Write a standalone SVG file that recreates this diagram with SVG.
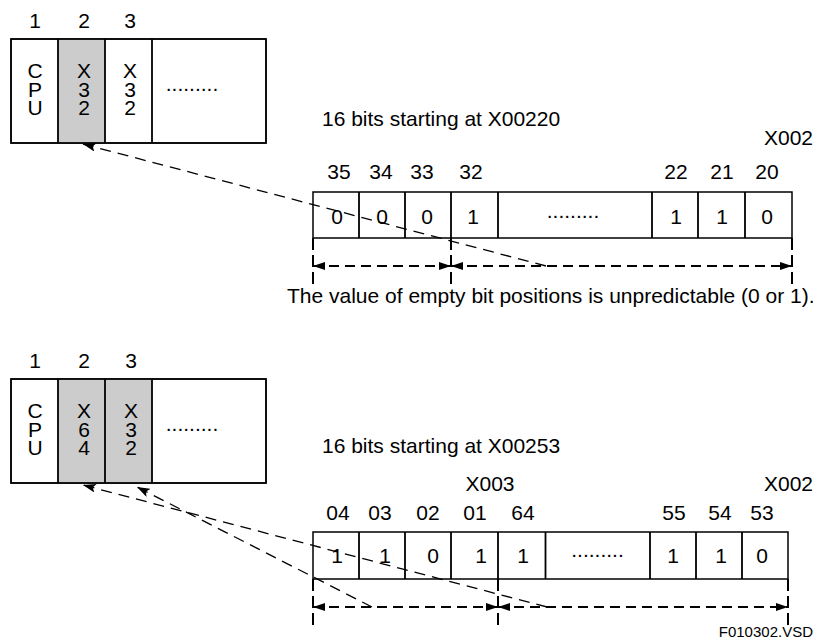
<svg xmlns="http://www.w3.org/2000/svg" width="826" height="641" viewBox="0 0 826 641">
<style>
  text { font-family: "Liberation Sans", Arial, sans-serif; font-size: 21px; fill: #000; }
  .m { text-anchor: middle; }
  .e { text-anchor: end; }
  .v { writing-mode: vertical-rl; text-orientation: upright; letter-spacing: -4.5px; }
  .small { font-size: 15px; }
  .box { fill: #fff; stroke: #000; stroke-width: 1.5; }
  .grey { fill: #cccccc; stroke: none; }
  .div { stroke: #000; stroke-width: 1.8; fill: none; }
  .tick { stroke: #000; stroke-width: 2; stroke-dasharray: 12 5; fill: none; }
  .span { stroke: #000; stroke-width: 2; stroke-dasharray: 10 6; fill: none; }
  .diag { stroke: #000; stroke-width: 1.3; stroke-dasharray: 11 7; fill: none; }
</style>
<defs>
  <marker id="ah" viewBox="0 0 12 8" refX="12" refY="4" markerWidth="12" markerHeight="8" markerUnits="userSpaceOnUse" orient="auto-start-reverse">
    <path d="M0,0 L12,4 L0,8 z" fill="#000"/>
  </marker>
  <marker id="dh" viewBox="0 0 13 9" refX="13" refY="4.5" markerWidth="13" markerHeight="9" markerUnits="userSpaceOnUse" orient="auto">
    <path d="M0,0 L13,4.5 L0,9 L3,4.5 z" fill="#000"/>
  </marker>
</defs>

<!-- ===== Top section ===== -->
<g id="slots-top">
  <text class="m" x="35" y="28">1</text>
  <text class="m" x="84" y="28">2</text>
  <text class="m" x="130" y="28">3</text>
</g>
<g id="block-top">
  <rect class="box" x="11" y="39" width="255" height="104"/>
  <rect class="grey" x="58" y="39.8" width="47" height="102.4"/>
  <line class="div" x1="58" y1="39" x2="58" y2="143"/>
  <line class="div" x1="105" y1="39" x2="105" y2="143"/>
  <line class="div" x1="152" y1="39" x2="152" y2="143"/>
  <rect x="11" y="39" width="255" height="104" fill="none" stroke="#000" stroke-width="1.5"/>
  <text class="v" x="35" y="59">CPU</text>
  <text class="v" x="84" y="59">X32</text>
  <text class="v" x="130" y="59">X32</text>
  <text class="m" x="192" y="90.5">.........</text>
</g>
<g id="register-top">
  <text x="322" y="126">16 bits starting at X00220</text>
  <text class="e" x="813" y="145">X002</text>
  <text class="m" x="339" y="179">35</text>
  <text class="m" x="381" y="179">34</text>
  <text class="m" x="422" y="179">33</text>
  <text class="m" x="471" y="179">32</text>
  <text class="m" x="676" y="179">22</text>
  <text class="m" x="722" y="179">21</text>
  <text class="m" x="767" y="179">20</text>
  <rect class="box" x="313" y="192" width="479" height="46"/>
  <path class="div" d="M359,192V238 M405,192V238 M451,192V238 M498,192V238 M652,192V238 M698,192V238 M745,192V238"/>
  <text class="m" x="337" y="224">0</text>
  <text class="m" x="382" y="224">0</text>
  <text class="m" x="427" y="224">0</text>
  <text class="m" x="473" y="224">1</text>
  <text class="m" x="573" y="217.5">.........</text>
  <text class="m" x="676" y="224">1</text>
  <text class="m" x="722" y="224">1</text>
  <text class="m" x="767" y="224">0</text>
</g>
<text x="287" y="303">The value of empty bit positions is unpredictable (0 or 1).</text>

<!-- ===== Bottom section ===== -->
<g id="slots-bottom">
  <text class="m" x="35" y="368">1</text>
  <text class="m" x="84" y="368">2</text>
  <text class="m" x="131" y="368">3</text>
</g>
<g id="block-bottom">
  <rect class="box" x="11" y="379" width="255" height="104"/>
  <rect class="grey" x="58" y="379.8" width="94" height="102.4"/>
  <line class="div" x1="58" y1="379" x2="58" y2="483"/>
  <line class="div" x1="105" y1="379" x2="105" y2="483"/>
  <line class="div" x1="152" y1="379" x2="152" y2="483"/>
  <rect x="11" y="379" width="255" height="104" fill="none" stroke="#000" stroke-width="1.5"/>
  <text class="v" x="35" y="399">CPU</text>
  <text class="v" x="84" y="399">X64</text>
  <text class="v" x="131" y="399">X32</text>
  <text class="m" x="192" y="430.5">.........</text>
</g>
<g id="register-bottom">
  <text x="322" y="453">16 bits starting at X00253</text>
  <text class="m" x="490" y="491">X003</text>
  <text class="e" x="813" y="491">X002</text>
  <text class="m" x="338" y="520">04</text>
  <text class="m" x="380" y="520">03</text>
  <text class="m" x="428" y="520">02</text>
  <text class="m" x="475" y="520">01</text>
  <text class="m" x="523" y="520">64</text>
  <text class="m" x="674" y="520">55</text>
  <text class="m" x="720" y="520">54</text>
  <text class="m" x="762" y="520">53</text>
  <rect class="box" x="313" y="532" width="475" height="47"/>
  <path class="div" d="M359,532V579 M405,532V579 M451,532V579 M498,532V579 M545.5,532V579 M650,532V579 M696,532V579 M742,532V579"/>
  <text class="m" x="337" y="563">1</text>
  <text class="m" x="385" y="563">1</text>
  <text class="m" x="433" y="563">0</text>
  <text class="m" x="481" y="563">1</text>
  <text class="m" x="523" y="563">1</text>
  <text class="m" x="597.5" y="556.5">.........</text>
  <text class="m" x="673" y="563">1</text>
  <text class="m" x="721" y="563">1</text>
  <text class="m" x="762" y="563">0</text>
</g>
<text class="e small" x="813" y="637">F010302.VSD</text>

<!-- ===== Connectors ===== -->
<g id="connectors">
  <path class="tick" d="M313,238V287 M451,238V287 M792,238V287"/>
  <line class="span" x1="313" y1="266" x2="451" y2="266" marker-start="url(#ah)" marker-end="url(#ah)"/>
  <line class="span" x1="451" y1="266" x2="792" y2="266" marker-start="url(#ah)" marker-end="url(#ah)"/>
  <line class="diag" x1="546" y1="266" x2="83" y2="144" marker-end="url(#dh)"/>

  <path class="tick" d="M313,579V628 M498,579V628 M788,579V628"/>
  <line class="span" x1="313" y1="607" x2="498" y2="607" marker-start="url(#ah)" marker-end="url(#ah)"/>
  <line class="span" x1="498" y1="607" x2="788" y2="607" marker-start="url(#ah)" marker-end="url(#ah)"/>
  <line class="diag" x1="547" y1="607" x2="83" y2="485" marker-end="url(#dh)"/>
  <line class="diag" x1="372" y1="607" x2="137" y2="487" marker-end="url(#dh)"/>
</g>
</svg>
